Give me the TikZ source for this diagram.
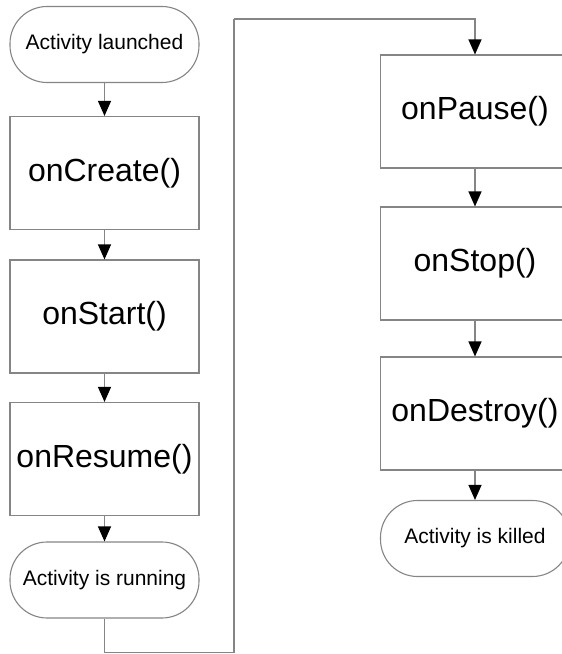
\documentclass[tikz,border=0pt]{standalone}
\usepackage{fontspec}
\setmainfont{Liberation Sans}
\usetikzlibrary{arrows.meta,positioning}
\definecolor{edge}{HTML}{858585}
\tikzset{
  stepbox/.style={draw=edge, line width=1.1pt, rectangle, minimum width=189pt, minimum height=113pt, inner sep=0pt, font=\fontsize{32}{38}\selectfont, fill=white},
  termbox/.style={draw=edge, line width=1.1pt, rectangle, rounded corners=37pt, minimum width=189pt, minimum height=76pt, inner sep=0pt, font=\fontsize{21}{25}\selectfont, fill=white},
  flow/.style={draw=edge, line width=1.1pt, -{Triangle[width=13pt,length=15pt,fill=black,color=black]}},
  wire/.style={draw=edge, line width=1.1pt}
}
\begin{document}
\begin{tikzpicture}[x=1pt,y=-1pt]
\useasboundingbox (0,0) rectangle (562,654);
\clip (0,0) rectangle (562,654);
% left column
\node[termbox] (launch) at (104.5,44.5) {Activity launched};
\node[stepbox] (create) at (104.5,173) {onCreate()};
\node[stepbox] (start) at (104.5,316.5) {onStart()};
\node[stepbox] (resume) at (104.5,459) {onResume()};
\node[termbox] (run) at (104.5,580) {Activity is running};
% right column
\node[stepbox] (pause) at (475,111.5) {onPause()};
\node[stepbox] (stop) at (475,263.5) {onStop()};
\node[stepbox] (destroy) at (475,413.5) {onDestroy()};
\node[termbox] (killed) at (475,538.5) {Activity is killed};
% connectors
\draw[flow] (launch) -- (create);
\draw[flow] (create) -- (start);
\draw[flow] (start) -- (resume);
\draw[flow] (resume) -- (run);
\draw[flow] (pause) -- (stop);
\draw[flow] (stop) -- (destroy);
\draw[flow] (destroy) -- (killed);
\coordinate (b1) at (104.5,652.5);
\coordinate (b2) at (234,652.5);
\coordinate (t1) at (234,19);
\draw[wire] (run.south) -- (b1) -- (b2) -- (t1);
\draw[flow] (t1) -| (pause.north);
\end{tikzpicture}
\end{document}
